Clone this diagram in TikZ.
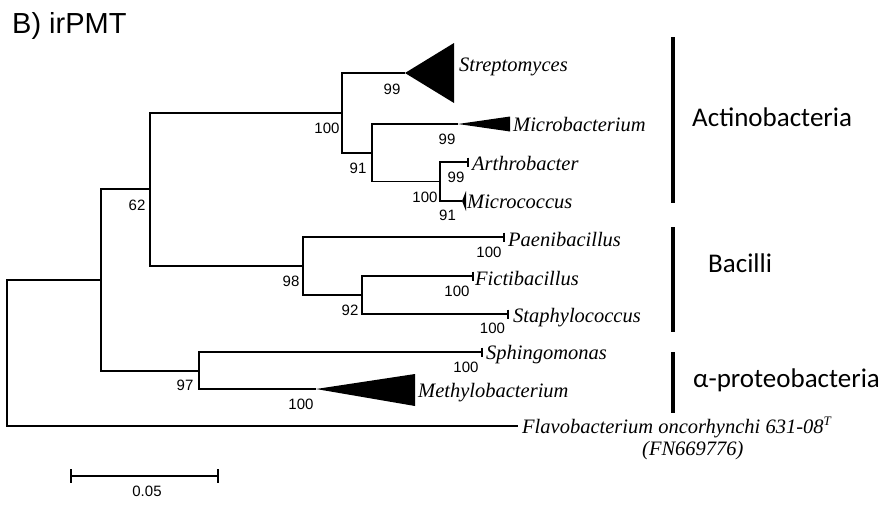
\documentclass[tikz,border=0pt]{standalone}
\usepackage{fontspec}
\setmainfont{Liberation Serif}
\newfontfamily\arialfont{Liberation Sans}
\newfontfamily\califont{Carlito}
\usetikzlibrary{positioning}

\tikzset{
	branch/.style={line width=1.4pt},
	taxon/.style={anchor=base west, inner sep=0pt, font=\fontsize{20.5}{22}\selectfont\itshape},
	boot/.style={inner sep=0pt, font=\arialfont\fontsize{15}{17}\selectfont},
	group/.style={anchor=base west, inner sep=0pt, font=\califont\fontsize{27}{30}\selectfont},
	groupbar/.style={line width=3.5pt},
}

\begin{document}
\begin{tikzpicture}[x=1pt,y=-1pt]
	\useasboundingbox (0,0) rectangle (882,504);
	\node[anchor=base west, inner sep=0pt, font=\arialfont\fontsize{29}{31}\selectfont] (title) at (12,33) {B) irPMT};

	\coordinate (root) at (7,353);
	\coordinate (nA) at (101,280);
	\coordinate (nB) at (150,189);
	\coordinate (nC) at (342,113);
	\coordinate (nD) at (372,153);
	\coordinate (nE) at (440,181.5);
	\coordinate (nF) at (303,266);
	\coordinate (nG) at (362,295);
	\coordinate (nH) at (199,371);

	\coordinate (strep) at (405,73);
	\coordinate (micro) at (458,124);
	\coordinate (arth) at (468,162);
	\coordinate (mcoc) at (462,201);
	\coordinate (paen) at (504,237);
	\coordinate (fict) at (473,276);
	\coordinate (staph) at (508,314);
	\coordinate (sphin) at (482,352);
	\coordinate (methyl) at (316,389);
	\coordinate (flavo) at (518,426);

	\draw[branch] (root) |- (nA);
	\draw[branch] (root) |- (flavo);
	\draw[branch] (nA) |- (nB);
	\draw[branch] (nA) |- (nH);
	\draw[branch] (nB) |- (nC);
	\draw[branch] (nB) |- (nF);
	\draw[branch] (nC) |- (strep);
	\draw[branch] (nC) |- (nD);
	\draw[branch] (nD) |- (micro);
	\draw[branch] (nD) |- (nE);
	\draw[branch] (nE) |- (arth);
	\draw[branch] (nE) |- (mcoc);
	\draw[branch] (nF) |- (paen);
	\draw[branch] (nF) |- (nG);
	\draw[branch] (nG) |- (fict);
	\draw[branch] (nG) |- (staph);
	\draw[branch] (nH) |- (sphin);
	\draw[branch] (nH) |- (methyl);

	\fill (strep) -- ++(49,-30) -- ++(0,60) -- cycle;
	\fill (micro) -- ++(52,-7.5) -- ++(0,15) -- cycle;
	\fill (mcoc) -- ++(4,-10) -- ++(0,20) -- cycle;
	\fill (methyl) -- ++(99,-15) -- ++(0,32) -- cycle;
	\draw[branch] (arth) ++(0,-4.5) -- ++(0,9);
	\draw[branch] (paen) ++(0,-4.5) -- ++(0,9);
	\draw[branch] (fict) ++(0,-4.5) -- ++(0,9);
	\draw[branch] (staph) ++(0,-4.5) -- ++(0,9);
	\draw[branch] (sphin) ++(0,-4.5) -- ++(0,9);

	\node[taxon] (tStrep) at (459,71) {Streptomyces};
	\node[taxon] (tMicro) at (513,131) {Microbacterium};
	\node[taxon] (tArth) at (472,170) {Arthrobacter};
	\node[taxon] (tMcoc) at (467,208) {Micrococcus};
	\node[taxon] (tPaen) at (508,246) {Paenibacillus};
	\node[taxon] (tFict) at (475,285) {Fictibacillus};
	\node[taxon] (tStaph) at (513,322) {Staphylococcus};
	\node[taxon] (tSphin) at (486,359) {Sphingomonas};
	\node[taxon] (tMethyl) at (418,397) {Methylobacterium};
	\node[taxon] (tFlavo) at (522,433) {Flavobacterium oncorhynchi 631-08\textsuperscript{\fontsize{13}{14}\selectfont T}};
	\node[taxon] (tAcc) at (642,455) {(FN669776)};

	\node[boot] (b62) at (137,205) {62};
	\node[boot] (bC) at (327,128) {100};
	\node[boot] (bStrep) at (392,89.5) {99};
	\node[boot] (bD) at (358,168) {91};
	\node[boot] (bMicro) at (447,139.5) {99};
	\node[boot] (bArth) at (456,177) {99};
	\node[boot] (bE) at (425,197) {100};
	\node[boot] (bMcoc) at (447.5,215.5) {91};
	\node[boot] (bF) at (291,281) {98};
	\node[boot] (bPaen) at (489,252) {100};
	\node[boot] (bG) at (350,310) {92};
	\node[boot] (bFict) at (457,291) {100};
	\node[boot] (bStaph) at (492.5,328) {100};
	\node[boot] (bH) at (185,385.5) {97};
	\node[boot] (bSphin) at (466,367) {100};
	\node[boot] (bMethyl) at (301,404.5) {100};

	\coordinate (sL) at (71,476);
	\coordinate (sR) at (218,476);
	\draw[branch] (sL) -- (sR);
	\draw[branch] (sL) ++(0,-7) -- ++(0,14);
	\draw[branch] (sR) ++(0,-7) -- ++(0,14);
	\node[boot] (scale) at (147,491) {0.05};

	\draw[groupbar] (673,37) -- (673,203);
	\draw[groupbar] (673,227) -- (673,332);
	\draw[groupbar] (673,352) -- (673,413);
	\node[group] (gAct) at (692,126) {Actinobacteria};
	\node[group] (gBac) at (708,272) {Bacilli};
	\node[group] (gAlpha) at (693,387) {α-proteobacteria};
\end{tikzpicture}
\end{document}
